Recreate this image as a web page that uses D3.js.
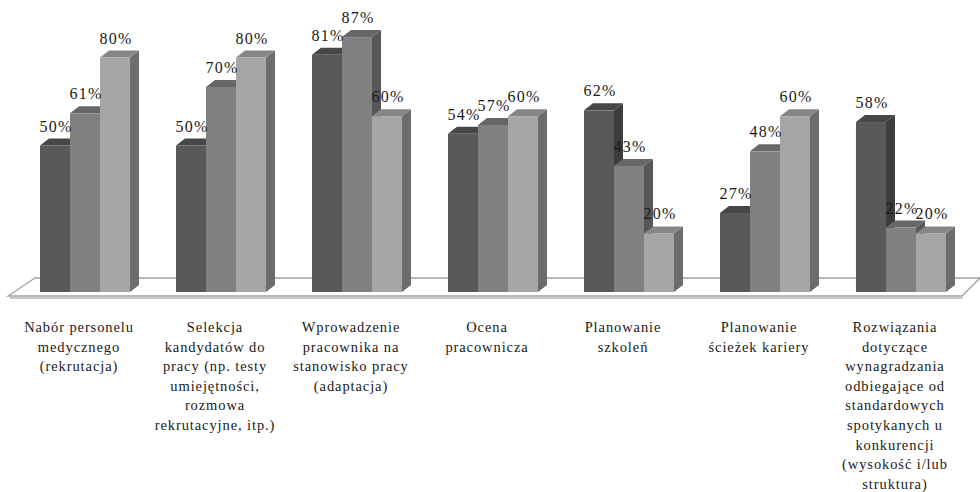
<!DOCTYPE html>
<html>
<head>
<meta charset="utf-8">
<script src="https://cdn.jsdelivr.net/npm/d3@7"></script>
<style>
  body { margin: 0; background: #fff; }
  text { font-family: "Liberation Serif", "Times New Roman", serif; fill: #1a1a1a; }
</style>
</head>
<body>
<svg id="chart"></svg>
<script>
// categories (wrapped as in the original)
var categories = [
  ["Nabór personelu", "medycznego", "(rekrutacja)"],
  ["Selekcja", "kandydatów do", "pracy (np. testy", "umiejętności,", "rozmowa", "rekrutacyjne, itp.)"],
  ["Wprowadzenie", "pracownika na", "stanowisko pracy", "(adaptacja)"],
  ["Ocena", "pracownicza"],
  ["Planowanie", "szkoleń"],
  ["Planowanie", "ścieżek kariery"],
  ["Rozwiązania", "dotyczące", "wynagradzania", "odbiegające od", "standardowych", "spotykanych u", "konkurencji", "(wysokość i/lub", "struktura)"]
];
var seriesNames = ["s1", "s2", "s3"];
var series1 = [50, 50, 81, 54, 62, 27, 58];
var series2 = [61, 70, 87, 57, 43, 48, 22];
var series3 = [80, 80, 60, 60, 20, 60, 20];

var allSeries = [series1, series2, series3];
var colors = [
  { front: "#595959", top: "#474747", side: "#3c3c3c" },
  { front: "#808080", top: "#676767", side: "#575757" },
  { front: "#a6a6a6", top: "#868686", side: "#6d6d6d" }
];

var svgWidth = 980, svgHeight = 492;
var depthX = 9, depthY = 7;
var baseY = 292;

var svg = d3.select("#chart")
  .attr("width", svgWidth)
  .attr("height", svgHeight);

var idx = d3.range(categories.length);

// Set up the scales
var xScale = d3.scaleBand()
  .domain(idx)
  .range([40, 946])
  .paddingInner(0.338)
  .paddingOuter(0);

var xSub = d3.scaleBand()
  .domain(d3.range(seriesNames.length))
  .range([0, xScale.bandwidth()]);

var yScale = d3.scaleLinear()
  .domain([0, 100])
  .range([baseY, baseY - 293]);

// floor
var fl = xScale.range()[0] - 32, fr = xScale.range()[1] + 16;
svg.append("line")
  .attr("x1", fl + 2).attr("x2", fr + 1)
  .attr("y1", baseY + 6).attr("y2", baseY + 6)
  .attr("stroke", "#c8c8c8").attr("stroke-width", 2);
svg.append("polygon")
  .attr("points", [[fl, baseY + 4], [fr, baseY + 4], [fr + 18, baseY - 14], [fl + 27, baseY - 14]].join(" "))
  .attr("fill", "#fff")
  .attr("stroke", "#a3a3a3")
  .attr("stroke-width", 1.3);

// bars
var bars = [];
idx.forEach(function (i) {
  allSeries.forEach(function (s, j) {
    bars.push({ cat: i, ser: j, value: s[i] });
  });
});

var g = svg.selectAll(".bar")
  .data(bars)
  .enter()
  .append("g")
  .attr("class", "bar");

g.each(function (d) {
  var x0 = xScale(d.cat) + xSub(d.ser);
  var x1 = x0 + xSub.bandwidth();
  var yt = yScale(d.value);
  var c = colors[d.ser];
  var el = d3.select(this);
  el.append("polygon")
    .attr("points", [[x1, yt], [x1 + depthX, yt - depthY], [x1 + depthX, baseY - depthY], [x1, baseY]].join(" "))
    .attr("fill", c.side);
  el.append("polygon")
    .attr("points", [[x0, yt], [x0 + depthX, yt - depthY], [x1 + depthX, yt - depthY], [x1, yt]].join(" "))
    .attr("fill", c.top);
  el.append("rect")
    .attr("x", x0).attr("y", yt)
    .attr("width", xSub.bandwidth())
    .attr("height", baseY - yt)
    .attr("fill", c.front);
});

// value labels
svg.selectAll(".val")
  .data(bars)
  .enter()
  .append("text")
  .attr("class", "val")
  .attr("x", function (d) { return xScale(d.cat) + xSub(d.ser) + xSub.bandwidth() / 2 + 1; })
  .attr("y", function (d) { return yScale(d.value) - 14; })
  .attr("text-anchor", "middle")
  .style("font-size", "16px")
  .style("letter-spacing", "1.2px")
  .text(function (d) { return d.value + "%"; });

// category labels
var lab = svg.selectAll(".cat")
  .data(categories)
  .enter()
  .append("text")
  .attr("class", "cat")
  .attr("text-anchor", "middle")
  .style("font-size", "14.5px")
  .style("letter-spacing", "0.9px");

lab.each(function (lines, i) {
  var t = d3.select(this);
  var cx = xScale(i) + xScale.bandwidth() / 2 - 6;
  lines.forEach(function (line, k) {
    t.append("tspan")
      .attr("x", cx)
      .attr("y", 332 + k * 19.6)
      .text(line);
  });
});
</script>
</body>
</html>
